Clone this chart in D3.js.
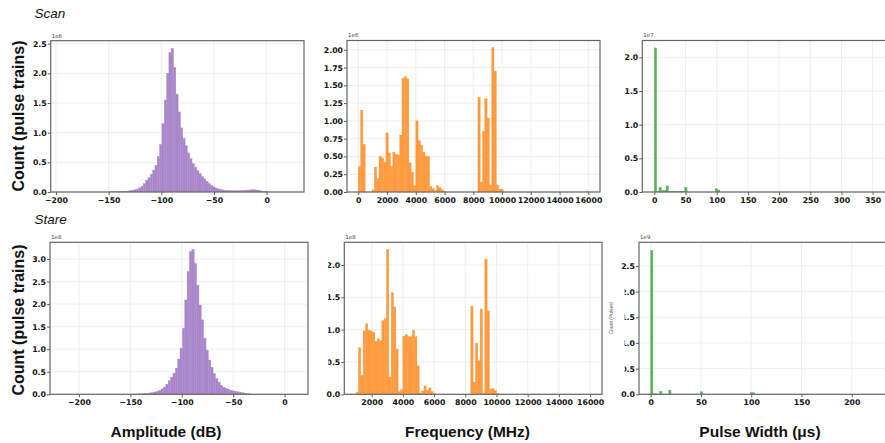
<!DOCTYPE html>
<html lang="en">
<head>
<meta charset="UTF-8">
<title>Pulse train histograms</title>
<style>
* { margin: 0; padding: 0; box-sizing: border-box; }
body { background: #fff; }
svg { display: block; }
.tick text { font: bold 7.8px "DejaVu Sans", sans-serif; fill: #111; }
.tick line { stroke: #333; stroke-width: 0.8; }
.exp { font: 5.5px "DejaVu Sans", sans-serif; fill: #444; }
.row-title { font: italic 13.5px "Liberation Sans", Arial, sans-serif; fill: #111; }
.ylab { font: bold 16px "Liberation Sans", Arial, sans-serif; fill: #111; }
.xlab { font: bold 15.5px "Liberation Sans", Arial, sans-serif; fill: #111; }
.ghost { font: 5px "Liberation Sans", Arial, sans-serif; fill: #555; }
.grid { stroke: #ebebeb; stroke-width: 0.8; }
.frame { fill: none; stroke: #666; stroke-width: 1.2; }
</style>
</head>
<body>
<svg width="885" height="443"></svg>
<script src="https://d3js.org/d3.v7.min.js"></script>
<script>
// ---- data (counts in units of the panel's exponent) ----
const scanAmpStart = -150, scanAmpStep = 2.2;   // dB, x1e6
const scanAmpCounts = [0.002,0.003,0.004,0.005,0.006,0.008,0.01,0.013,0.017,0.022,
  0.03,0.038,0.05,0.07,0.1,0.14,0.2,0.24,0.3,0.37,
  0.45,0.6,0.8,1.15,1.55,2.0,2.35,2.42,2.1,1.65,
  1.35,1.08,0.9,0.78,0.66,0.56,0.48,0.42,0.36,0.31,
  0.26,0.22,0.18,0.14,0.11,0.085,0.065,0.05,0.04,0.033,
  0.028,0.024,0.021,0.02,0.02,0.02,0.022,0.024,0.026,0.03,
  0.033,0.036,0.038,0.036,0.03,0.022,0.014,0.008,0.003];

const stareAmpStart = -150, stareAmpStep = 2.3; // dB, x1e8
const stareAmpCounts = [0.003,0.005,0.007,0.009,0.011,0.014,0.018,0.023,0.03,0.038,
  0.05,0.065,0.09,0.12,0.16,0.22,0.3,0.38,0.47,0.58,
  0.78,1.02,1.46,2.09,2.72,3.16,3.21,2.9,2.42,1.98,
  1.65,1.24,0.98,0.76,0.6,0.46,0.35,0.27,0.2,0.16,
  0.13,0.11,0.09,0.075,0.065,0.055,0.045,0.035,0.025,0.018,
  0.01,0.004];

const scanFreqStart = 0, scanFreqStep = 160;    // MHz, x1e6
const scanFreqBins = d3.range(0, 63).concat([99]);
const scanFreqCounts = [0.36,1.15,0.67,0,0,0,0.03,0.35,0.19,0.5,
  0.48,0.42,0.83,0.55,0.36,0.56,0.53,0.52,0.8,1.6,
  1.62,1.59,0.41,0.28,0.09,1.0,0.72,0.66,0.56,0.5,
  0.5,0.08,0.05,0.02,0.09,0.06,0.03,0.01,0,0,
  0,0,0,0,0,0,0,0,0,0,
  0,0,1.33,0.14,0.85,1.31,1.04,0.1,2.03,1.7,
  0.1,0.04,0.04,0.01];

const stareFreqStart = 1000, stareFreqStep = 150; // MHz, x1e8
const stareFreqCounts = [0.03,0.72,0.29,0.98,1.09,0.99,0.98,0.96,0.82,0.86,
  0.83,1.14,1.17,2.24,0.27,1.57,1.35,0.7,0.04,0.07,
  0.9,0.92,0.89,0.89,0.99,0.89,0.44,0.02,0.05,0.13,
  0.06,0.1,0.04,0.01,0,0,0,0,0,0,
  0,0,0,0,0,0,0,0,0,1.36,
  0.19,0.79,0.52,1.32,0.02,2.09,1.29,0.08,0.09,0.06,
  0.01];

const scanPwStart = 0, scanPwStep = 3.75;       // us, x1e7
const scanPwBins = [0,1,2,3,4,5,6,7,8,9,10,11,12,13,26,27];
const scanPwCounts = [2.14,0.01,0.07,0.02,0.02,0.09,0.01,0.01,0.01,0.01,0.01,0.01,0.01,0.07,0.05,0.03];

const starePwStart = 0, starePwStep = 2.25;     // us, x1e9
const starePwBins = [0,1,2,4,8,22,44,45];
const starePwCounts = [2.8,0.01,0.01,0.06,0.08,0.05,0.03,0.03];

const ampTicks = [-200, -150, -100, -50, 0];
const scanFreqTicks = [0, 2000, 4000, 6000, 8000, 10000, 12000, 14000, 16000];
const stareFreqTicks = [2000, 4000, 6000, 8000, 10000, 12000, 14000, 16000];
const scanPwTicks = [0, 50, 100, 150, 200, 250, 300, 350];
const starePwTicks = [0, 50, 100, 150, 200];

const rowTitles = ["Scan", "Stare"];
const yLabel = "Count (pulse trains)";
const xLabels = ["Amplitude (dB)", "Frequency (MHz)", "Pulse Width (\u03bcs)"];

const purple = "#a986c9", orange = "#ff9a3f", green = "#58b458";

const svg = d3.select("svg");
const minus = s => String(s).replace("-", "\u2212");

function drawPanel(p, idx) {
  const x = d3.scaleLinear().domain(p.xDomain).range([p.left, p.right]);
  const y = d3.scaleLinear().domain([0, p.yMax]).range([p.bottom, p.top]);
  const g = svg.append("g");
  const clipId = "clip" + idx;
  g.append("clipPath").attr("id", clipId)
    .append("rect")
    .attr("x", p.left).attr("y", p.top)
    .attr("width", p.right - p.left).attr("height", p.bottom - p.top);

  // grid
  g.selectAll(".gx").data(p.xTicks).enter().append("line")
    .attr("class", "grid")
    .attr("x1", d => x(d)).attr("x2", d => x(d))
    .attr("y1", p.top).attr("y2", p.bottom);
  g.selectAll(".gy").data(p.yTicks).enter().append("line")
    .attr("class", "grid")
    .attr("x1", p.left).attr("x2", p.right)
    .attr("y1", d => y(d)).attr("y2", d => y(d));

  // bars
  const bins = p.counts.map((c, i) => ({
    x0: p.start + (p.bins ? p.bins[i] : i) * p.step,
    c: c
  })).filter(d => d.c > 0);
  g.append("g").attr("clip-path", `url(#${clipId})`)
    .selectAll("rect").data(bins).enter().append("rect")
    .attr("x", d => x(d.x0))
    .attr("width", d => x(d.x0 + p.step) - x(d.x0))
    .attr("y", d => y(d.c))
    .attr("height", d => p.bottom - y(d.c))
    .attr("fill", p.color)
    .attr("stroke", p.color)
    .attr("stroke-width", 0.35);

  // axes
  const ax = g.append("g").attr("transform", `translate(0,${p.bottom})`)
    .call(d3.axisBottom(x).tickValues(p.xTicks).tickSize(3).tickPadding(2.5)
      .tickFormat(d => minus(d)));
  const ay = g.append("g").attr("transform", `translate(${p.left},0)`)
    .call(d3.axisLeft(y).tickValues(p.yTicks).tickSize(3).tickPadding(1)
      .tickFormat(d3.format(p.yFmt)));
  ax.select(".domain").remove();
  ay.select(".domain").remove();
  ax.selectAll("text").attr("fill", null);
  ay.selectAll("text").attr("fill", null);
  ax.selectAll(".tick").filter(d => x(d) > 884).remove();

  if (p.labelClip != null) {
    const lc = "lclip" + idx;
    g.append("clipPath").attr("id", lc).append("rect")
      .attr("x", p.labelClip - p.left).attr("y", -20)
      .attr("width", 40).attr("height", 40);
    ay.selectAll(".tick").filter(d => d !== 0 && d !== p.keepLabel)
      .select("text").attr("clip-path", `url(#${lc})`);
  }

  g.append("rect").attr("class", "frame")
    .attr("x", p.left).attr("y", p.top)
    .attr("width", p.right - p.left).attr("height", p.bottom - p.top);

  g.append("text").attr("class", "exp")
    .attr("x", p.left + 1).attr("y", p.top - 3.2)
    .text(p.exp);
}

const panels = [
  { left: 50.7, right: 304, top: 40.7, bottom: 192, xDomain: [-205, 35.5], yMax: 2.55,
    xTicks: ampTicks, yTicks: [0, 0.5, 1, 1.5, 2, 2.5], yFmt: ".1f", exp: "1e6",
    color: purple, start: scanAmpStart, step: scanAmpStep, counts: scanAmpCounts },
  { left: 347, right: 600, top: 40.5, bottom: 192, xDomain: [-786, 16814], yMax: 2.13,
    xTicks: scanFreqTicks, yTicks: [0, 0.25, 0.5, 0.75, 1, 1.25, 1.5, 1.75, 2], yFmt: ".2f", exp: "1e6",
    color: orange, start: scanFreqStart, step: scanFreqStep, counts: scanFreqCounts, bins: scanFreqBins },
  { left: 642.3, right: 892, top: 40.5, bottom: 192, xDomain: [-19.3, 381], yMax: 2.25,
    xTicks: scanPwTicks, yTicks: [0, 0.5, 1, 1.5, 2], yFmt: ".1f", exp: "1e7",
    color: green, start: scanPwStart, step: scanPwStep, counts: scanPwCounts, bins: scanPwBins },
  { left: 50, right: 308, top: 242.3, bottom: 394.3, xDomain: [-228.2, 22.8], yMax: 3.37,
    xTicks: ampTicks, yTicks: [0, 0.5, 1, 1.5, 2, 2.5, 3], yFmt: ".1f", exp: "1e8",
    color: purple, start: stareAmpStart, step: stareAmpStep, counts: stareAmpCounts },
  { left: 344.3, right: 602, top: 242.3, bottom: 394.3, xDomain: [244, 16763], yMax: 2.35,
    xTicks: stareFreqTicks, yTicks: [0, 0.5, 1, 1.5, 2], yFmt: ".1f", exp: "1e8",
    color: orange, start: stareFreqStart, step: stareFreqStep, counts: stareFreqCounts, labelClip: 328.3 },
  { left: 639, right: 892, top: 242.3, bottom: 394.3, xDomain: [-11.6, 240], yMax: 2.96,
    xTicks: starePwTicks, yTicks: [0, 0.5, 1, 1.5, 2, 2.5], yFmt: ".1f", exp: "1e9",
    color: green, start: starePwStart, step: starePwStep, counts: starePwCounts, bins: starePwBins,
    labelClip: 624.6, keepLabel: 2.5 }
];

panels.forEach(drawPanel);

// faint leftover axis label in the lower right panel
svg.append("text").attr("class", "ghost")
  .attr("transform", "translate(613,318) rotate(-90)")
  .attr("text-anchor", "middle")
  .text("Count (Pulses)");

// row titles and shared labels
svg.selectAll(".row-title").data(rowTitles).enter().append("text")
  .attr("class", "row-title")
  .attr("x", 34.5).attr("y", (d, i) => [18, 224][i])
  .text(d => d);

svg.selectAll(".ylab").data([116, 320]).enter().append("text")
  .attr("class", "ylab")
  .attr("text-anchor", "middle")
  .attr("transform", d => `translate(24,${d}) rotate(-90)`)
  .text(yLabel);

svg.selectAll(".xlab").data(xLabels).enter().append("text")
  .attr("class", "xlab")
  .attr("text-anchor", "middle")
  .attr("x", (d, i) => [166, 467.5, 760][i])
  .attr("y", 437)
  .text(d => d);
</script>
</body>
</html>
